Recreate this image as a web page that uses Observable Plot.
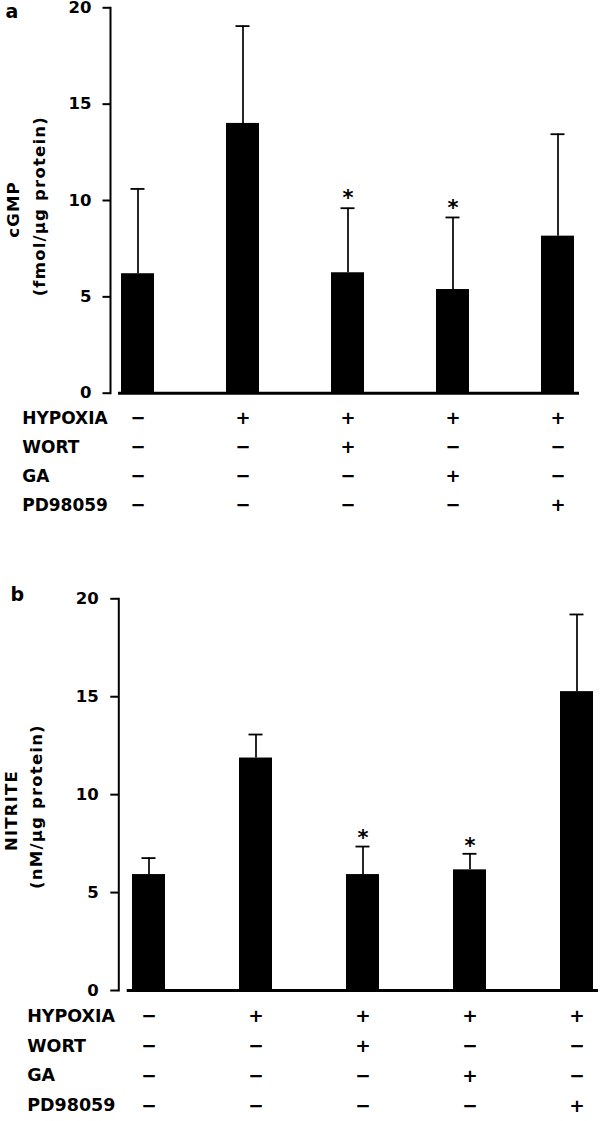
<!DOCTYPE html>
<html><head><meta charset="utf-8">
<script src="https://cdn.jsdelivr.net/npm/d3@7"></script>
<script src="https://cdn.jsdelivr.net/npm/@observablehq/plot@0.6"></script>
<style>
body{margin:0;background:#fff;}
#chart{width:600px;}
#chart svg{display:block;overflow:visible;}
</style></head><body><div id="chart"></div>
<script>
// ---- data ----
const groups = ["G1","G2","G3","G4","G5"];
const factors = ["HYPOXIA","WORT","GA","PD98059"];
const hypoxia = ["−","+","+","+","+"];
const wort    = ["−","−","+","−","−"];
const ga      = ["−","−","−","+","−"];
const pd98059 = ["−","−","−","−","+"];
const yTicks = [0,5,10,15,20];

const cgmpMean = [6.2, 14.0, 6.25, 5.38, 8.15];
const cgmpSE   = [4.4, 5.05, 3.35, 3.74, 5.29];
const cgmpSig  = [false, false, true, true, false];

const nitriteMean = [5.92, 11.87, 5.92, 6.16, 15.26];
const nitriteSE   = [0.84, 1.2, 1.43, 0.82, 3.94];
const nitriteSig  = [false, false, true, true, false];

const signRows = [hypoxia, wort, ga, pd98059];
const FONT = "DejaVu Sans, sans-serif";

function panel(o) {
  const data = groups.map((g, i) => ({group: g, mean: o.mean[i], upper: o.mean[i] + o.se[i], sig: o.sig[i]}));
  const ml = o.marginLeft, mt = o.marginTop;
  const midY = (mt + (o.height - o.marginBottom)) / 2;
  const marks = [
    Plot.barY(data, {x: "group", y: "mean", fill: "black"}),
    Plot.ruleX(data, {x: "group", y1: "mean", y2: "upper", stroke: "black", strokeWidth: 1.7}),
    Plot.tickY(data, {x: "group", y: "upper", stroke: "black", strokeWidth: 1.8, inset: o.capInset}),
    Plot.text(data.filter(d => d.sig), {x: "group", y: "upper", text: () => "*", fontSize: 21, fontWeight: "bold", fontFamily: FONT, dy: o.starDy}),
    Plot.ruleY([0], {stroke: "black", strokeWidth: 3, insetLeft: o.baseInsetLeft, insetRight: o.baseInsetRight}),
    Plot.frame({anchor: "left", stroke: "black", strokeWidth: 2}),
    Plot.axisY({ticks: yTicks, tickSize: o.tickSize, tickPadding: o.tickPadding, strokeWidth: 2, fontSize: 16.5, fontWeight: "bold", fontFamily: FONT, label: null, tickFormat: d => String(d)}),
    Plot.text([o.letter], {text: d => d, frameAnchor: "top-left", textAnchor: "start", lineAnchor: "bottom", dx: o.letterX - ml, dy: o.letterBase - mt, fontSize: 19, fontWeight: "bold", fontFamily: FONT}),
    Plot.text([o.title1], {text: d => d, frameAnchor: "left", rotate: -90, textAnchor: "middle", lineAnchor: "middle", dx: o.t1x - ml, dy: o.t1y - midY, fontSize: 16.5, fontWeight: "bold", fontFamily: FONT}),
    Plot.text([o.title2], {text: d => d, frameAnchor: "left", rotate: -90, textAnchor: "middle", lineAnchor: "middle", dx: o.t2x - ml, dy: o.t2y - midY, fontSize: 16.5, fontWeight: "bold", fontFamily: FONT})
  ];
  factors.forEach((f, i) => {
    const dy = o.rowStart + i * o.rowGap;
    marks.push(Plot.text([f], {text: d => d, frameAnchor: "bottom-left", textAnchor: "start", lineAnchor: "middle", dx: o.labelX - ml, dy, fontSize: o.tableFont, fontWeight: "bold", fontFamily: FONT}));
    marks.push(Plot.text(groups, {x: d => d, text: (d, j) => signRows[i][j], frameAnchor: "bottom", lineAnchor: "middle", dy, fontSize: o.tableFont + 1, fontWeight: "bold", fontFamily: FONT}));
  });
  const svg = Plot.plot({
    width: 600,
    height: o.height,
    marginLeft: ml,
    marginRight: 0,
    marginTop: mt,
    marginBottom: o.marginBottom,
    style: {fontFamily: FONT, background: "white", color: "black"},
    x: {type: "band", domain: groups, range: o.xRange, paddingInner: 0.69, paddingOuter: 0.345, axis: null},
    y: {domain: [0, 20], axis: null},
    marks
  });
  // widen the letter spacing of the rotated axis titles, as in the original
  d3.select(svg).selectAll("text")
    .filter(function () { return this.textContent === o.title1 || this.textContent === o.title2; })
    .style("letter-spacing", "1.2px");
  return svg;
}

const a = panel({
  height: 560, marginLeft: 110, marginTop: 7.3, marginBottom: 167.3,
  xRange: [84.3, 611.2],
  mean: cgmpMean, se: cgmpSE, sig: cgmpSig,
  capInset: 9.5, starDy: -9.5, baseInsetLeft: 8, baseInsetRight: 21,
  tickSize: 7.5, tickPadding: 11.5,
  letter: "a", letterX: 5, letterBase: 17,
  title1: "cGMP", t1x: 13.5, t1y: 209,
  title2: "(fmol/µg protein)", t2x: 39, t2y: 205.7,
  labelX: 21.7, rowStart: 25.5, rowGap: 29, tableFont: 17
});
const b = panel({
  height: 561, marginLeft: 118.3, marginTop: 38.3, marginBottom: 131,
  xRange: [93.2, 631],
  mean: nitriteMean, se: nitriteSE, sig: nitriteSig,
  capInset: 9.5, starDy: -8, baseInsetLeft: 8.4, baseInsetRight: 2,
  tickSize: 8, tickPadding: 12,
  letter: "b", letterX: 10, letterBase: 40,
  title1: "NITRITE", t1x: 11, t1y: 250,
  title2: "(nM/µg protein)", t2x: 36, t2y: 246,
  labelX: 26.7, rowStart: 25.7, rowGap: 29.8, tableFont: 17.5
});
document.getElementById("chart").append(a, b);
</script></body></html>
